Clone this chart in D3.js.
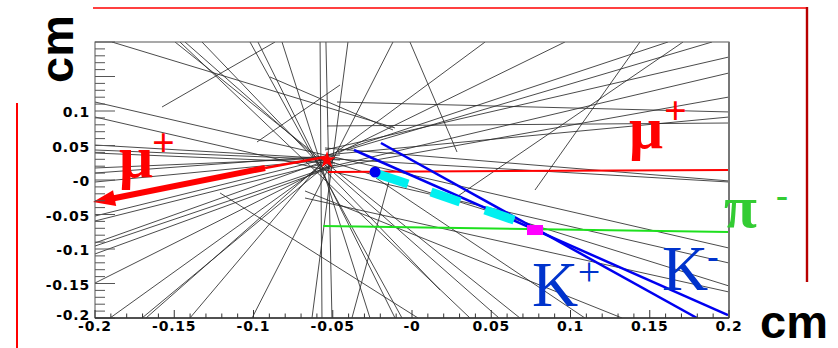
<!DOCTYPE html>
<html>
<head>
<meta charset="utf-8">
<script src="https://cdn.jsdelivr.net/npm/d3@7"></script>
<style>
  body { margin: 0; background: #fff; }
  svg { display: block; }
</style>
</head>
<body>
<script>
// event display, all positions in cm: [x1, y1, x2, y2]
const tracks = [
  [-0.2, 0.113, 0.2, -0.0986],
  [-0.2, 0.0913, 0.2, -0.1203],
  [-0.2, 0.0507, 0.2, -0.0029],
  [-0.2, 0.0435, -0.0454, 0.029],
  [-0.2, 0.0391, -0.0486, 0.0246],
  [-0.2, 0.0174, -0.0517, 0.0319],
  [-0.2, 0.0101, -0.0454, 0.0362],
  [-0.2, -0.0029, -0.0549, 0.029],
  [-0.2, -0.0522, -0.0517, 0.0319],
  [-0.2, -0.0594, -0.0517, 0.0261],
  [-0.2, -0.0913, -0.053, 0.029],
  [-0.2, -0.0957, -0.0486, 0.0217],
  [-0.2, -0.1072, -0.0517, 0.0174],
  [-0.2, -0.1493, -0.0517, 0.0217],
  [-0.1905, -0.2, -0.0517, 0.029],
  [-0.1703, -0.2, -0.0486, 0.0319],
  [-0.1678, -0.2, -0.058, 0.0217],
  [-0.1401, -0.2, -0.0568, 0.0261],
  [-0.1009, -0.2, -0.012, 0.2],
  [-0.1211, -0.0188, 0.0038, -0.2],
  [-0.058, 0.2, -0.0568, -0.2],
  [-0.0543, 0.2, -0.0505, -0.2],
  [-0.0404, 0.2, -0.0631, -0.2],
  [-0.1022, 0.2, -0.0063, -0.2],
  [-0.0972, 0.2, -0.0107, -0.2],
  [-0.082, 0.2, -0.0265, -0.2],
  [-0.0139, 0.0029, -0.0379, -0.2],
  [-0.1495, 0.2, 0.0681, -0.2],
  [-0.1464, 0.2, 0.0366, -0.2],
  [-0.1432, 0.2, 0.0549, -0.2],
  [-0.1325, 0.2, 0.0177, -0.1594],
  [-0.1893, 0.2, -0.0107, 0.0754],
  [-0.1577, 0.1058, -0.0864, 0.2],
  [-0.0978, 0.0551, -0.0454, 0.1377],
  [-0.0486, 0.0391, 0.0461, 0.2],
  [-0.0467, 0.0391, 0.0965, 0.2],
  [-0.0549, 0.0348, 0.1615, 0.2],
  [-0.0549, 0.0435, 0.2, 0.1783],
  [-0.0549, 0.0174, 0.2, 0.1551],
  [-0.0549, 0.0159, 0.2, 0.1203],
  [-0.0549, 0.0362, 0.2, 0.0913],
  [-0.0549, 0.0464, 0.2, -0.0014],
  [-0.041, 0.0435, 0.1893, 0.2],
  [-0.0473, 0.113, 0.2, 0.0986],
  [-0.0536, 0.0783, 0.2, 0.0826],
  [-0.0013, 0.2, 0.0284, 0.0406],
  [0.029, -0.0232, 0.171, 0.2],
  [0.0776, -0.0145, 0.1438, 0.2],
  [-0.0896, 0.1493, -0.012, 0.0725],
  [-0.0549, 0.029, 0.2, -0.1536],
  [-0.0227, 0.0029, 0.1091, -0.2],
  [-0.0675, -0.0159, 0.1325, -0.2],
  [-0.0675, -0.0261, 0.2, -0.1623]
];
const kaonTracks = [
  [-0.0366, 0.0435, 0.1994, -0.1957],
  [-0.0196, 0.0536, 0.1798, -0.2]
];
const muonTrack = [-0.053, 0.0116, 0.2, 0.0145];
const pionTrack = [-0.056, -0.0667, 0.2, -0.0754];
// reconstructed mu+ with arrow: vertex, kink, tip
const muonArrow = [[-0.0549, 0.0333], [-0.0927, 0.0174], [-0.2, -0.032]];
const kaonHits = [
  [-0.0215, 0.0087, -0.0025, -0.0058],
  [0.012, -0.0174, 0.0303, -0.0319],
  [0.046, -0.0435, 0.0644, -0.058]
];
const vertex = [-0.0536, 0.029];
const startPoint = [-0.0233, 0.0116];
const decayPoint = [0.0776, -0.0725];

const xTicks = [-0.2, -0.15, -0.1, -0.05, 0, 0.05, 0.1, 0.15, 0.2];
const xTickLabels = ["-0.2", "-0.15", "-0.1", "-0.05", "-0", "0.05", "0.1", "0.15", "0.2"];
const yTicks = [-0.2, -0.15, -0.1, -0.05, 0, 0.05, 0.1, 0.15, 0.2];
const yTickLabels = ["-0.2", "-0.15", "-0.1", "-0.05", "-0", "0.05", "0.1"];
const minorTicks = d3.range(-20, 21).map(i => i / 100);

const plotL = 95, plotR = 729, plotT = 42, plotB = 318;

const x = d3.scaleLinear().domain([-0.2, 0.2]).range([plotL, plotR]);
const y = d3.scaleLinear().domain([-0.2, 0.2]).range([plotB, plotT]);

const svg = d3.select('body').append('svg')
  .attr('width', 838)
  .attr('height', 348);

svg.append('defs').append('clipPath').attr('id', 'plot')
  .append('rect')
  .attr('x', plotL).attr('y', plotT)
  .attr('width', plotR - plotL).attr('height', plotB - plotT);

// red frame pieces around the picture
svg.append('line').attr('x1', 93).attr('y1', 8).attr('x2', 807).attr('y2', 8)
  .attr('stroke', '#f00').attr('stroke-width', 1.6);
svg.append('line').attr('x1', 807).attr('y1', 7).attr('x2', 807).attr('y2', 282)
  .attr('stroke', '#b80000').attr('stroke-width', 2.4);
svg.append('line').attr('x1', 17).attr('y1', 103).attr('x2', 17).attr('y2', 348)
  .attr('stroke', '#f00').attr('stroke-width', 2);

const g = svg.append('g').attr('clip-path', 'url(#plot)');

g.selectAll('line.trk')
  .data(tracks)
  .join('line')
    .attr('class', 'trk')
    .attr('x1', d => x(d[0])).attr('y1', d => y(d[1]))
    .attr('x2', d => x(d[2])).attr('y2', d => y(d[3]))
    .attr('stroke', '#2b2b2b')
    .attr('stroke-width', 0.85);

g.append('line')
  .attr('x1', x(muonTrack[0])).attr('y1', y(muonTrack[1]))
  .attr('x2', x(muonTrack[2])).attr('y2', y(muonTrack[3]))
  .attr('stroke', '#f00').attr('stroke-width', 2);

g.append('line')
  .attr('x1', x(pionTrack[0])).attr('y1', y(pionTrack[1]))
  .attr('x2', x(pionTrack[2])).attr('y2', y(pionTrack[3]))
  .attr('stroke', '#1ee01e').attr('stroke-width', 2);

g.selectAll('line.kaon')
  .data(kaonTracks)
  .join('line')
    .attr('class', 'kaon')
    .attr('x1', d => x(d[0])).attr('y1', d => y(d[1]))
    .attr('x2', d => x(d[2])).attr('y2', d => y(d[3]))
    .attr('stroke', '#0000f0')
    .attr('stroke-width', 2.5);

g.selectAll('line.hit')
  .data(kaonHits)
  .join('line')
    .attr('class', 'hit')
    .attr('x1', d => x(d[0])).attr('y1', d => y(d[1]))
    .attr('x2', d => x(d[2])).attr('y2', d => y(d[3]))
    .attr('stroke', '#00f0f0')
    .attr('stroke-width', 9);

// mu+ arrow
const pv = muonArrow.map(p => [x(p[0]), y(p[1])]);
g.append('line')
  .attr('x1', pv[0][0]).attr('y1', pv[0][1])
  .attr('x2', pv[1][0]).attr('y2', pv[1][1])
  .attr('stroke', '#f00').attr('stroke-width', 2.6);
const dx = pv[2][0] - pv[1][0], dy = pv[2][1] - pv[1][1];
const len = Math.hypot(dx, dy), ux = dx / len, uy = dy / len;
const headLen = 20, headW = 8;
const base = [pv[2][0] - ux * headLen, pv[2][1] - uy * headLen];
svg.append('line')
  .attr('x1', pv[1][0]).attr('y1', pv[1][1])
  .attr('x2', base[0] + ux * 2).attr('y2', base[1] + uy * 2)
  .attr('stroke', '#f00').attr('stroke-width', 6);
svg.append('path')
  .attr('d', `M${pv[2][0] - 2},${pv[2][1]} L${base[0] - uy * headW},${base[1] + ux * headW} L${base[0] + uy * headW},${base[1] - ux * headW} Z`)
  .attr('fill', '#f00');

g.append('circle')
  .attr('cx', x(startPoint[0])).attr('cy', y(startPoint[1]))
  .attr('r', 5.5).attr('fill', '#0000f0');

g.append('rect')
  .attr('x', x(decayPoint[0]) - 8).attr('y', y(decayPoint[1]) - 5)
  .attr('width', 16).attr('height', 10)
  .attr('fill', '#ff00ff');

g.append('path')
  .attr('transform', `translate(${x(vertex[0])},${y(vertex[1])})`)
  .attr('d', d3.symbol().type(d3.symbolStar).size(90)())
  .attr('fill', '#f00');

// frame
svg.append('rect')
  .attr('x', plotL).attr('y', plotT)
  .attr('width', plotR - plotL).attr('height', plotB - plotT)
  .attr('fill', 'none').attr('stroke', '#555').attr('stroke-width', 1);
svg.append('line').attr('x1', plotR).attr('y1', plotT).attr('x2', plotR).attr('y2', plotB)
  .attr('stroke', '#777').attr('stroke-width', 2);

// ticks
const isMajor = v => Math.abs(Math.round(v * 20) - v * 20) < 1e-6;
svg.selectAll('line.ytick')
  .data(minorTicks)
  .join('line')
    .attr('class', 'ytick')
    .attr('x1', plotL).attr('x2', d => plotL + (isMajor(d) ? 20 : 10))
    .attr('y1', d => y(d)).attr('y2', d => y(d))
    .attr('stroke', '#555').attr('stroke-width', 1);
svg.selectAll('line.xtick')
  .data(minorTicks)
  .join('line')
    .attr('class', 'xtick')
    .attr('x1', d => x(d)).attr('x2', d => x(d))
    .attr('y1', plotB).attr('y2', d => plotB - (isMajor(d) ? 8 : 4.5))
    .attr('stroke', '#333').attr('stroke-width', 1);
svg.append('line').attr('x1', plotL).attr('y1', plotB).attr('x2', plotR).attr('y2', plotB)
  .attr('stroke', '#333').attr('stroke-width', 1.5);

const tickFont = 'bold 14px "DejaVu Sans"';
svg.selectAll('text.xl')
  .data(xTicks)
  .join('text')
    .attr('class', 'xl')
    .attr('x', d => x(d)).attr('y', plotB + 13)
    .attr('text-anchor', 'middle')
    .style('font', tickFont).style('letter-spacing', '0.8px')
    .attr('fill', '#000')
    .text((d, i) => xTickLabels[i]);
svg.selectAll('text.yl')
  .data(yTicks.slice(0, yTickLabels.length))
  .join('text')
    .attr('class', 'yl')
    .attr('x', 90).attr('y', (d, i) => y(d) + (i === 0 ? 2 : 6))
    .attr('text-anchor', 'end')
    .style('font', tickFont).style('letter-spacing', '0.8px')
    .attr('fill', '#000')
    .text((d, i) => yTickLabels[i]);

// axis titles
svg.append('text')
  .attr('transform', 'translate(73,83) rotate(-90)')
  .style('font', 'bold 47px "Liberation Sans"')
  .attr('fill', '#000')
  .text('cm');
svg.append('text')
  .attr('x', 760).attr('y', 338)
  .style('font', 'bold 47px "Liberation Sans"')
  .attr('fill', '#000')
  .text('cm');

// particle labels
const serif = '"Liberation Serif", "DejaVu Serif", serif';
function label(txt, px, py, size, color, weight, anchor) {
  svg.append('text')
    .attr('x', px).attr('y', py)
    .attr('text-anchor', anchor || 'start')
    .style('font-family', serif)
    .style('font-size', size + 'px')
    .style('font-weight', weight)
    .attr('fill', color)
    .text(txt);
}
label('μ', 119, 177, 60, '#f00', 'bold');
label('+', 163.5, 156, 40, '#f00', 'bold', 'middle');
label('μ', 629, 148, 60, '#f00', 'bold');
label('+', 675.5, 124, 40, '#f00', 'bold', 'middle');
label('π', 724, 227, 60, '#33cc33', 'bold');
label('-', 782, 207, 36, '#33cc33', 'bold', 'middle');
label('K', 532, 306, 64, '#0033cc', 'normal');
label('+', 589, 285, 40, '#0033cc', 'normal', 'middle');
label('K', 662, 290, 64, '#0033cc', 'normal');
label('-', 713, 268, 34, '#0033cc', 'bold', 'middle');
</script>
</body>
</html>
